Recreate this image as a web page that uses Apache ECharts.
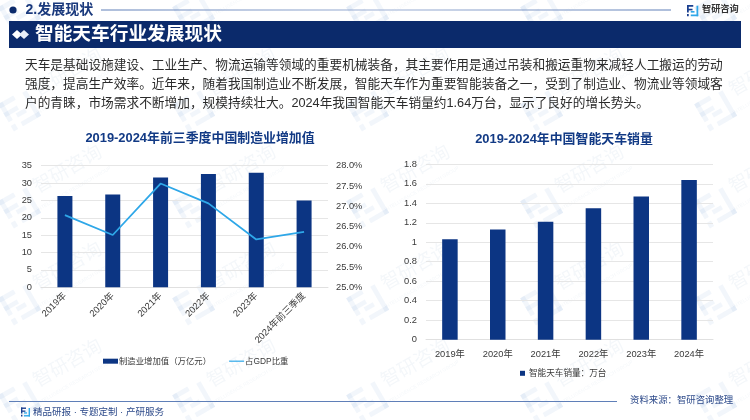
<!DOCTYPE html>
<html><head><meta charset="utf-8">
<style>html,body{margin:0;padding:0;background:#fff}#c{width:750px;height:420px}</style>
<script src="https://cdn.jsdelivr.net/npm/echarts@6/dist/echarts.min.js"></script>
</head><body><div id="c"></div>
<script>
const FONT='"Liberation Sans","Noto Sans CJK SC",sans-serif';
const leftCats=['2019年','2020年','2021年','2022年','2023年','2024年前三季度'];
const addedValue=[26.3,26.7,31.6,32.6,33.0,25.0];
const gdpShare=[26.78,26.29,27.56,27.07,26.18,26.37];
const rightCats=['2019年','2020年','2021年','2022年','2023年','2024年'];
const craneSales=[1.03,1.13,1.21,1.35,1.47,1.64];
const paragraph=[
'天车是基础设施建设、工业生产、物流运输等领域的重要机械装备，其主要作用是通过吊装和搬运重物来减轻人工搬运的劳动',
'强度，提高生产效率。近年来，随着我国制造业不断发展，智能天车作为重要智能装备之一，受到了制造业、物流业等领域客',
'户的青睐，市场需求不断增加，规模持续壮大。2024年我国智能天车销量约1.64万台，显示了良好的增长势头。'];
const NAVY='#0c3583',BAN='#0b2a6b',SKY='#2ea7e8',INK='#3a3a3a';

function logo(x,y,s,c1,c2,z){
  const r=(a,b,w,h,f)=>({type:'rect',z:z,silent:true,shape:{x:x+a*s,y:y+b*s,width:w*s,height:h*s},style:{fill:f}});
  return [r(0,0,5,1.4,c1),r(0,0,1.4,6,c1),r(0,3,4.4,1.3,c1),r(0,7.2,1.4,1.8,c1),
          r(7.6,0.6,1.4,8.4,c2),r(3,7.6,6,1.4,c2),r(3,4.8,3,1.3,c2)];
}
const g=[];
// watermarks
for(let row=-1;row<5;row++){for(let col=0;col<5;col++){
  const cx=68+col*174, cy=73+row*97;
  g.push({type:'text',z:0,silent:true,x:cx,y:cy,rotation:Math.PI/6,originX:0,originY:0,
    style:{text:'智研咨询',x:0,y:0,align:'center',verticalAlign:'middle',font:'19px '+FONT,fill:'rgba(40,90,150,0.05)',letterSpacing:2}});
  g.push({type:'text',z:0,silent:true,x:cx+6,y:cy+19,rotation:Math.PI/6,originX:0,originY:0,
    style:{text:'INTELLIGENCE RESEARCH GROUP',x:0,y:0,align:'center',verticalAlign:'middle',font:'5px '+FONT,fill:'rgba(40,90,150,0.05)'}});
  g.push({type:'group',z:0,silent:true,x:cx-48,y:cy+37,rotation:Math.PI/6,originX:0,originY:0,
    children:logo(-16,-16,3.5,'rgba(40,110,190,0.06)','rgba(40,110,190,0.06)',0)});
}}
// header
g.push({type:'circle',z:5,silent:true,shape:{cx:13,cy:10,r:3.6},style:{fill:BAN}});
g.push({type:'text',z:5,silent:true,style:{text:'2.发展现状',x:25.5,y:10,verticalAlign:'middle',font:'bold 14px '+FONT,fill:'#1b3a7d'}});
g.push({type:'rect',z:5,silent:true,shape:{x:101,y:9.5,width:570,height:1},style:{fill:{type:'linear',x:0,y:0,x2:1,y2:0,colorStops:[{offset:0,color:'#5f7fb8'},{offset:0.5,color:'#9db0d4'},{offset:1,color:'#5f7fb8'}]}}});
g.push(...logo(687,5,1.25,'#1a3f8f','#2ea7e8',5));
g.push({type:'text',z:5,silent:true,style:{text:'智研咨询',x:702,y:9.5,verticalAlign:'middle',font:'bold 9.2px '+FONT,fill:'#333'}});
// banner
g.push({type:'rect',z:5,silent:true,shape:{x:9,y:21,width:732,height:27},style:{fill:BAN}});
g.push({type:'polygon',z:6,silent:true,shape:{points:[[12,34.5],[17,30],[22,34.5],[17,39]]},style:{fill:'#fff'}});
g.push({type:'polygon',z:6,silent:true,shape:{points:[[19,34.5],[24,30],[29,34.5],[24,39]]},style:{fill:'#e8eef8'}});
g.push({type:'text',z:6,silent:true,style:{text:'智能天车行业发展现状',x:35,y:34.5,verticalAlign:'middle',font:'bold 18.7px '+FONT,fill:'#fff'}});
// paragraph
paragraph.forEach((t,i)=>g.push({type:'text',z:5,silent:true,style:{text:t,x:25,y:65+i*19,verticalAlign:'middle',font:'12.7px '+FONT,fill:'#2b2b2b'}}));
// chart titles
g.push({type:'text',z:5,silent:true,style:{text:'2019-2024年前三季度中国制造业增加值',x:200,y:138,align:'center',verticalAlign:'middle',font:'bold 12.9px '+FONT,fill:'#123a85'}});
g.push({type:'text',z:5,silent:true,style:{text:'2019-2024年中国智能天车销量',x:564,y:139.5,align:'center',verticalAlign:'middle',font:'bold 12.9px '+FONT,fill:'#123a85'}});
// footer
g.push({type:'rect',z:5,silent:true,shape:{x:9,y:401,width:608,height:1},style:{fill:'#5f7fb8'}});
g.push(...logo(21,407.5,1,'#1a3f8f','#2ea7e8',5));
g.push({type:'text',z:5,silent:true,style:{text:'精品研报 · 专题定制 · 产研服务',x:33,y:412,verticalAlign:'middle',font:'9.5px '+FONT,fill:'#2d4a8a'}});
g.push({type:'text',z:5,silent:true,style:{text:'资料来源：智研咨询整理',x:630,y:400.5,verticalAlign:'middle',font:'9.4px '+FONT,fill:'#2d4a8a'}});

const label={color:INK,fontSize:9.3,fontFamily:FONT};
const split={show:true,lineStyle:{color:'#e6e6e6',width:1}};
const catAxis=(grid,data,extra)=>({type:'category',gridIndex:grid,data,axisTick:{show:false},
  axisLine:{show:true,lineStyle:{color:'#e0e0e0'}},axisLabel:Object.assign({},label,extra)});
const chart=echarts.init(document.getElementById('c'),null,{renderer:'canvas'});
chart.setOption({
  animation:false,backgroundColor:'#fff',textStyle:{fontFamily:FONT},
  graphic:{elements:g},
  grid:[{left:41,top:165.7,width:287,height:121.6},{left:426,top:164.3,width:287,height:175.4}],
  legend:[
    {left:98,top:352,itemGap:18,itemWidth:15,itemHeight:5,data:[{name:'制造业增加值（万亿元）',icon:'rect'},{name:'占GDP比重',icon:'path://M0 0H20V1.6H0Z'}],
     textStyle:{color:INK,fontSize:8.4,fontFamily:FONT,padding:[0,0,0,-4]}},
    {left:515,top:364,itemWidth:5,itemHeight:5,data:[{name:'智能天车销量：万台',icon:'rect'}],
     textStyle:{color:INK,fontSize:8.6,fontFamily:FONT,padding:[0,0,0,-1]}}
  ],
  xAxis:[catAxis(0,leftCats,{rotate:45,interval:0,margin:7}),catAxis(1,rightCats,{interval:0,margin:10})],
  yAxis:[
    {type:'value',gridIndex:0,min:0,max:35,interval:5,axisLine:{show:false},axisTick:{show:false},axisLabel:Object.assign({},label,{margin:9}),splitLine:split},
    {type:'value',gridIndex:0,min:25,max:28,interval:0.5,position:'right',axisLine:{show:false},axisTick:{show:false},
      axisLabel:Object.assign({},label,{margin:8,formatter:v=>v.toFixed(1)+'%'}),splitLine:{show:false}},
    {type:'value',gridIndex:1,min:0,max:1.8,interval:0.2,axisLine:{show:false},axisTick:{show:false},
      axisLabel:Object.assign({},label,{margin:9,formatter:v=>String(+v.toFixed(1))}),splitLine:split}
  ],
  series:[
    {name:'制造业增加值（万亿元）',type:'bar',xAxisIndex:0,yAxisIndex:0,data:addedValue,barWidth:15,itemStyle:{color:NAVY},z:3},
    {name:'占GDP比重',type:'line',xAxisIndex:0,yAxisIndex:1,data:gdpShare,showSymbol:false,symbol:'none',lineStyle:{color:SKY,width:1.8},itemStyle:{color:SKY},z:4},
    {name:'智能天车销量：万台',type:'bar',xAxisIndex:1,yAxisIndex:2,data:craneSales,barWidth:15.5,itemStyle:{color:NAVY},z:3}
  ]
});
</script></body></html>
